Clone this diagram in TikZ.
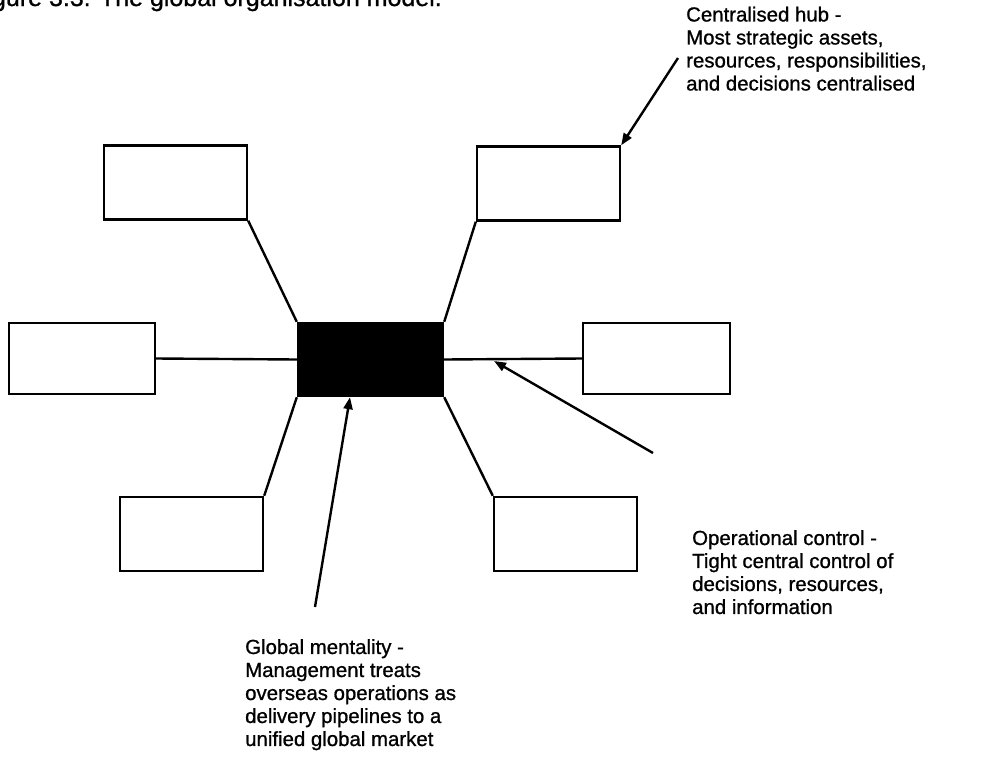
\documentclass[tikz,border=0pt]{standalone}
\usepackage{fontspec}
\setmainfont{Liberation Sans}
% slightly heavier face for the callout texts
\newfontfamily\notefont{Liberation Sans}[BoldFont={Liberation Sans}, BoldFeatures={FakeBold=0.9}]
\usetikzlibrary{arrows.meta}
\begin{document}
\begin{tikzpicture}[x=1pt,y=-1pt,
  unit/.style={draw, line width=2.4pt, fill=white, inner sep=0pt,
               minimum width=143pt, minimum height=74pt},
  hubbox/.style={unit, fill=black, minimum width=145pt, minimum height=73pt},
  link/.style={line width=2.4pt},
  pointer/.style={line width=2.4pt, -{Triangle[length=12pt,width=9pt]}},
  note/.style={font=\notefont\bfseries\fontsize{20.4}{23}\selectfont, align=left,
               anchor=north west, inner sep=0pt},
  caption/.style={font=\notefont\bfseries\fontsize{25}{28}\selectfont, anchor=base west, inner sep=0pt}]

% page frame
\fill[white] (0,0) rectangle (997,772);
\useasboundingbox (0,0) rectangle (997,772);

% figure caption (runs off the top of the page)
\node[caption] (cap) at (-29,6) {Figure 3.3: The global organisation model.};

% central hub and the six overseas units
\node[hubbox] (hub) at (370.5,359.5) {};
\node[unit] (tl) at (175.5,182.5) {};
\node[unit] (tr) at (548.5,183.5) {};
\node[unit, minimum width=146pt, minimum height=71pt] (l) at (82,358.5) {};
\node[unit, minimum width=147pt, minimum height=71pt] (r) at (656.5,358.5) {};
\node[unit] (bl) at (191.5,534) {};
\node[unit] (br) at (565.5,534) {};

% spokes
\draw[link] (tl.south east) -- (hub.north west);
\draw[link] (tr.south west) -- (hub.north east);
\draw[link] (l.east) -- (hub.west);
\draw[link] (hub.east) -- (r.west);
\draw[link] (bl.north east) -- (hub.south west);
\draw[link] (br.north west) -- (hub.south east);

% callouts
\node[note] (hubtxt) at (686,6.5) {Centralised hub -\\Most strategic assets,\\resources, responsibilities,\\and decisions centralised};
\node[note] (optxt) at (692,530) {Operational control -\\Tight central control of\\decisions, resources,\\and information};
\node[note] (gmtxt) at (245,639) {Global mentality -\\Management treats\\overseas operations as\\delivery pipelines to a\\unified global market};

\coordinate (hubtail) at (678,58);
\coordinate (optail) at (653,453);
\coordinate (optip) at (494,361);
\coordinate (gmtail) at (315,607);
\coordinate (gmtip) at ([xshift=-20.5pt]hub.south);

\draw[pointer] (hubtail) -- (tr.north east);
\draw[pointer] (optail) -- (optip);
\draw[pointer] (gmtail) -- (gmtip);
\end{tikzpicture}
\end{document}
